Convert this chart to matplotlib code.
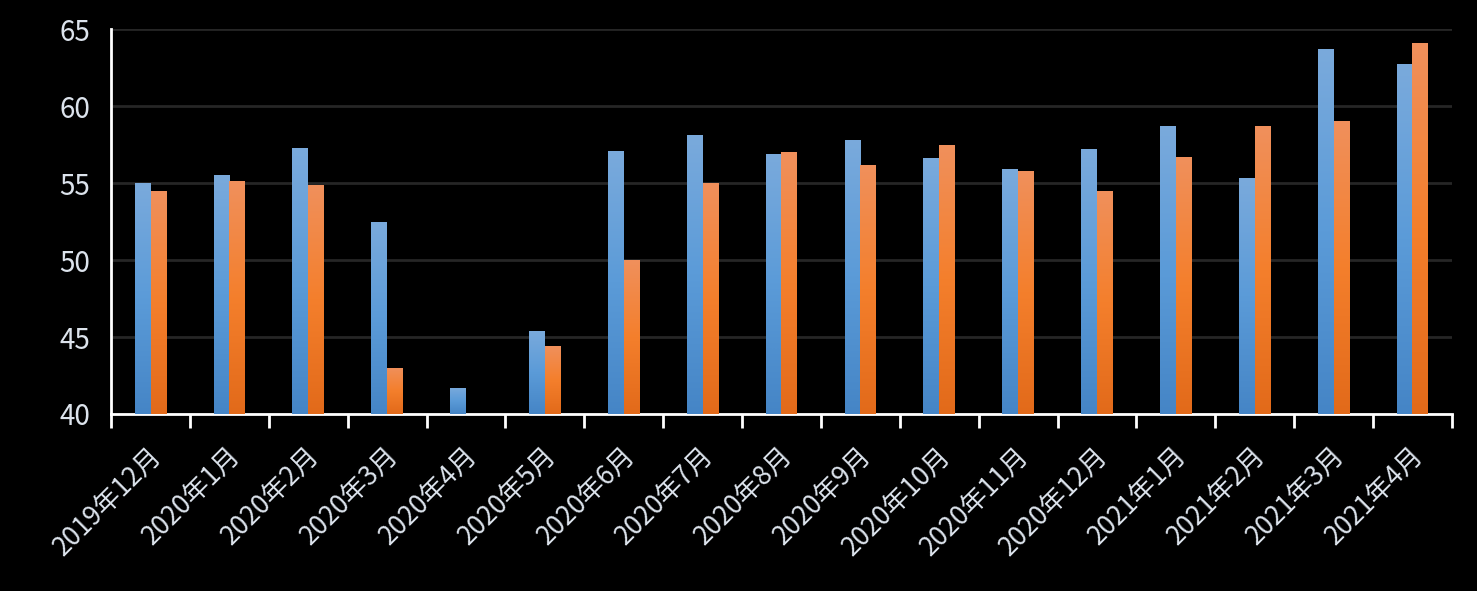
import numpy as np
import matplotlib
matplotlib.use("Agg")
import matplotlib.pyplot as plt
from matplotlib.colors import LinearSegmentedColormap
from matplotlib.ticker import FixedLocator
import matplotlib.transforms as mtransforms

plt.rcParams['font.family'] = ['Noto Sans CJK SC', 'DejaVu Sans']

categories = ["2019年12月", "2020年1月", "2020年2月", "2020年3月", "2020年4月", "2020年5月",
              "2020年6月", "2020年7月", "2020年8月", "2020年9月", "2020年10月", "2020年11月",
              "2020年12月", "2021年1月", "2021年2月", "2021年3月", "2021年4月"]
series_blue = [55.0, 55.5, 57.3, 52.5, 41.7, 45.4, 57.1, 58.1, 56.9, 57.8, 56.6, 55.9,
               57.2, 58.7, 55.3, 63.7, 62.7]
series_orange = [54.5, 55.1, 54.9, 43.0, np.nan, 44.4, 50.0, 55.0, 57.0, 56.2, 57.5, 55.8,
                 54.5, 56.7, 58.7, 59.0, 64.1]
y_ticks = [40, 45, 50, 55, 60, 65]

fig = plt.figure(figsize=(14.77, 5.91), dpi=100, facecolor='black')
ax = fig.add_axes([0.0752, 0.2995, 0.9078, 0.6514])
ax.set_facecolor('black')

n = len(categories)
x = np.arange(n)
w = 0.2

blue_cmap = LinearSegmentedColormap.from_list('b', ['#4585c6', '#5b9bd8', '#7aaadc'])
orange_cmap = LinearSegmentedColormap.from_list('o', ['#e26a1a', '#f47f2c', '#f0905c'])
grad = np.linspace(0, 1, 256).reshape(-1, 1)

def grad_bars(xs, vals, cmap):
    bars = ax.bar(xs, vals, width=w, bottom=0, color='none', edgecolor='none', zorder=3)
    for b, v in zip(bars, vals):
        if np.isnan(v):
            continue
        x0 = b.get_x(); x1 = x0 + b.get_width()
        im = ax.imshow(grad, cmap=cmap, origin='lower', aspect='auto',
                       extent=[x0, x1, 40, v], zorder=3, interpolation='bicubic')
        im.set_clip_path(b)

grad_bars(x - w / 2, series_blue, blue_cmap)
grad_bars(x + w / 2, series_orange, orange_cmap)

ax.set_xlim(-0.5, n - 0.5)
ax.set_ylim(40, 65)
ax.set_yticks(y_ticks)
ax.yaxis.grid(True, color='#262626', linewidth=2, zorder=0)
ax.set_axisbelow(True)

ax.set_xticks(x)
ax.set_xticklabels(categories, rotation=45, ha='right', va='center', rotation_mode='anchor',
                   fontsize=19, color='#dce3ec')
ax.xaxis.set_minor_locator(FixedLocator(np.arange(-0.5, n, 1)))
ax.tick_params(axis='x', which='major', length=0, pad=27)
ax.tick_params(axis='x', which='minor', length=10, width=2, color='white')
offset = mtransforms.ScaledTranslation(7 / 100, 0, fig.dpi_scale_trans)
for lbl in ax.get_xticklabels():
    lbl.set_transform(lbl.get_transform() + offset)

ax.tick_params(axis='y', length=0, pad=15, labelsize=20, labelcolor='#dce3ec')

for s in ['top', 'right']:
    ax.spines[s].set_visible(False)
ax.spines['left'].set_color('white')
ax.spines['left'].set_linewidth(2)
ax.spines['bottom'].set_color('white')
ax.spines['bottom'].set_linewidth(2)

fig.savefig('out.png', dpi=100, facecolor='black')
